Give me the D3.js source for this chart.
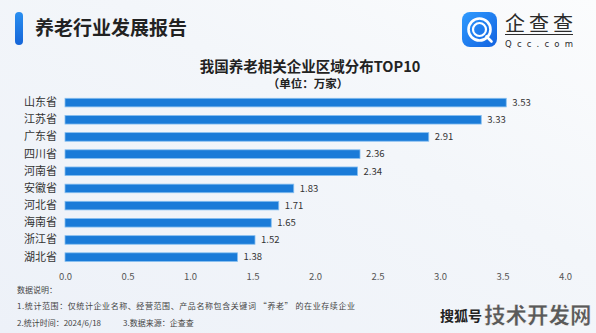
<!DOCTYPE html>
<html><head><meta charset="utf-8">
<script src="https://cdn.jsdelivr.net/npm/d3@7/dist/d3.min.js"></script>
<style>html,body{margin:0;padding:0;overflow:hidden;background:#f2f5f9}</style>
</head><body><svg id="c" width="596" height="333"></svg>
<script>
const provinces = ["山东省","江苏省","广东省","四川省","河南省","安徽省","河北省","海南省","浙江省","湖北省"];
const values = [3.53,3.33,2.91,2.36,2.34,1.83,1.71,1.65,1.52,1.38];
const ticks = [0,0.5,1.0,1.5,2.0,2.5,3.0,3.5,4.0];
const headerTitle = "养老行业发展报告";
const chartTitle = "我国养老相关企业区域分布TOP10";
const chartSubtitle = "（单位：万家）";
const notes = ["数据说明：","1.统计范围：仅统计企业名称、经营范围、产品名称包含关键词 “养老” 的在业存续企业","2.统计时间：2024/6/18","3.数据来源：企查查"];

const font = "'Noto Sans CJK SC','Noto Sans',sans-serif";
const svg = d3.select("#c").style("font-family", font);
const defs = svg.append("defs");
const bg = defs.append("linearGradient").attr("id","bg").attr("x1","0").attr("y1","1").attr("x2","1").attr("y2","0");
bg.append("stop").attr("offset","0").attr("stop-color","#edf1f8");
bg.append("stop").attr("offset","0.6").attr("stop-color","#f3f6fa");
bg.append("stop").attr("offset","1").attr("stop-color","#fbfcfd");
svg.append("rect").attr("width",596).attr("height",333).attr("fill","url(#bg)");

const ag = defs.append("linearGradient").attr("id","acc").attr("x1","0").attr("y1","0").attr("x2","0").attr("y2","1");
ag.append("stop").attr("offset","0").attr("stop-color","#2a8ff0");
ag.append("stop").attr("offset","1").attr("stop-color","#1565d8");
svg.append("rect").attr("x",15).attr("y",12).attr("width",8).attr("height",33).attr("rx",4).attr("fill","url(#acc)");
svg.append("text").attr("x",35).attr("y",35).attr("font-size",19).attr("font-weight",700).attr("fill","#222").text(headerTitle);

// logo
const lg = defs.append("linearGradient").attr("id","logo").attr("x1","0").attr("y1","0").attr("x2","1").attr("y2","1");
lg.append("stop").attr("offset","0").attr("stop-color","#2f9bff");
lg.append("stop").attr("offset","1").attr("stop-color","#1262e0");
svg.append("rect").attr("x",462).attr("y",12).attr("width",35).attr("height",35).attr("rx",8).attr("fill","url(#logo)");
const cx=479.5, cy=29.5;
svg.append("circle").attr("cx",cx).attr("cy",cy).attr("r",11).attr("fill","none").attr("stroke","#fff").attr("stroke-width",2.6);
svg.append("circle").attr("cx",cx).attr("cy",cy).attr("r",6.5).attr("fill","none").attr("stroke","#fff").attr("stroke-width",2.2);
svg.append("path").attr("d",`M${cx+7} ${cy+7} L${cx+12} ${cy+12}`).attr("stroke","#fff").attr("stroke-width",2.6).attr("stroke-linecap","round");
svg.append("text").attr("x",505).attr("y",31).attr("font-size",20).attr("fill","#2b2b2b").attr("textLength",68).text("企查查");
svg.append("line").attr("x1",505).attr("x2",573).attr("y1",34.5).attr("y2",34.5).attr("stroke","#2b2b2b").attr("stroke-width",1);
svg.append("text").attr("x",505).attr("y",47).attr("font-size",8.5).attr("fill","#2b2b2b").attr("textLength",68).attr("font-family","'DejaVu Sans',sans-serif").text("Qcc.com");

svg.append("text").attr("x",310).attr("y",72).attr("text-anchor","middle").attr("font-size",14.5).attr("font-weight",700).attr("fill","#222").text(chartTitle);
svg.append("text").attr("x",308).attr("y",88).attr("text-anchor","middle").attr("font-size",11.5).attr("font-weight",700).attr("fill","#222").text(chartSubtitle);

const x = d3.scaleLinear().domain([0,4]).range([65,565]);
const y = d3.scaleBand().domain(provinces).range([94,265.7]).paddingInner(0.5).paddingOuter(0.25);

svg.append("g").selectAll("rect").data(values).join("rect")
  .attr("x",x(0)).attr("y",(d,i)=>y(provinces[i]))
  .attr("width",d=>x(d)-x(0)).attr("height",y.bandwidth())
  .attr("fill","#1a7bd8").attr("stroke","#86bff0").attr("stroke-width",0.8);

svg.append("g").selectAll("text").data(values).join("text")
  .attr("x",d=>x(d)+6).attr("y",(d,i)=>y(provinces[i])+y.bandwidth()/2+3.3)
  .attr("font-size",9.5).attr("fill","#333").text(d=>d.toFixed(2));

const yAxis = svg.append("g").attr("transform",`translate(${x(0)},0)`).call(d3.axisLeft(y).tickSize(0).tickPadding(8));
yAxis.select(".domain").remove();
yAxis.selectAll("text").attr("font-size",11).attr("fill","#333").attr("font-family",font);

const xAxis = svg.append("g").attr("transform","translate(0,267)").call(d3.axisBottom(x).tickValues(ticks).tickFormat(d3.format(".1f")).tickSize(0).tickPadding(6));
xAxis.select(".domain").remove();
xAxis.selectAll("text").attr("font-size",9.5).attr("fill","#555").attr("font-family",font);

svg.append("text").attr("x",17).attr("y",293).attr("font-size",8).attr("fill","#444").text(notes[0]);
svg.append("text").attr("x",17).attr("y",309).attr("font-size",8).attr("fill","#444").attr("textLength",338).text(notes[1]);
svg.append("text").attr("x",17).attr("y",326).attr("font-size",8).attr("fill","#444").text(notes[2]);
svg.append("text").attr("x",123).attr("y",326).attr("font-size",8).attr("fill","#444").text(notes[3]);

// watermark
svg.append("text").attr("x",440).attr("y",321).attr("font-size",14).attr("font-weight",700).attr("fill","#222").text("搜狐号");
svg.append("text").attr("x",484).attr("y",323).attr("font-size",21.5).attr("font-weight",900).attr("fill","#5a5a5a").attr("stroke","#ffffff").attr("stroke-width",0.6).text("技术开发网");
</script></body></html>
